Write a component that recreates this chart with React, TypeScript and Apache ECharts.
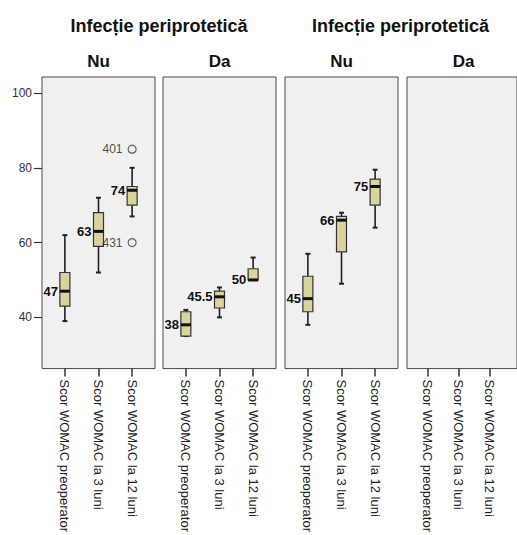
import React, { useEffect, useRef } from "react";
import * as echarts from "echarts";

// Measures shown along each panel's horizontal axis
const categories = ["Scor WOMAC preoperator", "Scor WOMAC la 3 luni", "Scor WOMAC la 12 luni"];

// Panel headers: outer factor label and level label
const groupTitle = "Infecție periprotetică";
const panelLevels = ["Nu", "Da", "Nu", "Da"];

// Box statistics per measure: [min, Q1, median, Q3, max]
const boxesPanel1 = [
  [39, 43, 47, 52, 62],
  [52, 59, 63, 68, 72],
  [67, 70, 74, 75, 80],
];
const boxesPanel2 = [
  [35, 35, 38, 41.5, 42],
  [40, 42.5, 45.5, 47, 48],
  [50, 50, 50, 53, 56],
];
const boxesPanel3 = [
  [38, 41.5, 45, 51, 57],
  [49, 57.5, 66, 67, 68],
  [64, 70, 75, 77, 79.5],
];
const boxesPanel4: number[][] = [];

// Outlying cases: [measure index, value, case id]
const outliersPanel1: [number, number, string][] = [
  [2, 85, "401"],
  [2, 60, "431"],
];

// Value axis
const yMin = 26.3;
const yMax = 104.3;
const yTicks = [40, 60, 80, 100];

const FONT = "'Liberation Sans', Arial, sans-serif";

const panelLefts = [42, 163, 285, 407];
const panelWidths = [113, 113, 113, 120];
const panelTop = 77;
const panelHeight = 293;

export default function App() {
  const ref = useRef<HTMLDivElement>(null);

  useEffect(() => {
    if (!ref.current) return;
    const chart = echarts.init(ref.current, undefined, { renderer: "svg" });

    const allBoxes = [boxesPanel1, boxesPanel2, boxesPanel3, boxesPanel4];
    const allOutliers = [outliersPanel1, [], [], []];

    const grid = panelLefts.map((left, i) => ({
      left,
      top: panelTop,
      width: panelWidths[i],
      height: panelHeight,
      show: true,
      backgroundColor: "#F0F0F0",
      borderColor: "#4A4A4A",
      borderWidth: 1,
      containLabel: false,
    }));

    // x range chosen so the three measures sit 22-23px in from each panel edge
    const xAxis = panelLefts.map((_, i) => {
      const span = (panelWidths[i] / 113) * 3.36;
      return {
        type: "value" as const,
        gridIndex: i,
        min: -0.68,
        max: -0.68 + span,
        splitLine: { show: false },
        axisLine: { show: false, onZero: false },
        axisTick: {
          show: true,
          length: 8,
          customValues: [0, 1, 2],
          lineStyle: { color: "#333", width: 1.5 },
        },
        axisLabel: {
          show: true,
          customValues: [0, 1, 2],
          rotate: -90,
          margin: 11,
          padding: [7, 0, 0, 0],
          fontSize: 13,
          fontFamily: FONT,
          color: "#222",
          formatter: (v: number) => categories[Math.round(v)] ?? "",
        },
      };
    });

    const yAxis = panelLefts.map((_, i) => ({
      type: "value" as const,
      gridIndex: i,
      min: yMin,
      max: yMax,
      splitLine: { show: false },
      axisLine: { show: false, onZero: false },
      axisTick: {
        show: i === 0,
        length: 8,
        customValues: yTicks,
        lineStyle: { color: "#333", width: 1.2 },
      },
      axisLabel: {
        show: i === 0,
        customValues: yTicks,
        margin: 10,
        fontSize: 12,
        fontFamily: FONT,
        color: "#333",
      },
    }));

    const series: any[] = [];
    allBoxes.forEach((boxes, i) => {
      series.push({
        type: "custom",
        xAxisIndex: i,
        yAxisIndex: i,
        data: boxes.map((b, k) => [k, ...b]),
        encode: { x: 0, y: [1, 2, 3, 4, 5] },
        renderItem: (_params: any, api: any) => {
          const x = api.value(0);
          const mn = api.value(1);
          const q1 = api.value(2);
          const md = api.value(3);
          const q3 = api.value(4);
          const mx = api.value(5);
          const pMin = api.coord([x, mn]);
          const pQ1 = api.coord([x, q1]);
          const pMd = api.coord([x, md]);
          const pQ3 = api.coord([x, q3]);
          const pMax = api.coord([x, mx]);
          const cx = pMin[0];
          const half = 5;
          const cap = 2.5;
          const stroke = { stroke: "#222", lineWidth: 1.6 };
          return {
            type: "group",
            children: [
              { type: "line", shape: { x1: cx, y1: pMax[1], x2: cx, y2: pQ3[1] }, style: stroke },
              { type: "line", shape: { x1: cx, y1: pQ1[1], x2: cx, y2: pMin[1] }, style: stroke },
              { type: "line", shape: { x1: cx - cap, y1: pMax[1], x2: cx + cap, y2: pMax[1] }, style: { stroke: "#222", lineWidth: 2 } },
              { type: "line", shape: { x1: cx - cap, y1: pMin[1], x2: cx + cap, y2: pMin[1] }, style: { stroke: "#222", lineWidth: 2 } },
              {
                type: "rect",
                shape: { x: cx - half, y: pQ3[1], width: half * 2, height: pQ1[1] - pQ3[1] },
                style: { fill: "#D9D49C", stroke: "#333", lineWidth: 1.2 },
              },
              { type: "line", shape: { x1: cx - half, y1: pMd[1], x2: cx + half, y2: pMd[1] }, style: { stroke: "#111", lineWidth: 3 } },
              {
                type: "text",
                x: cx - half - 2,
                y: pMd[1],
                style: {
                  text: String(md),
                  align: "right",
                  verticalAlign: "middle",
                  fill: "#111",
                  font: `bold 13px ${FONT}`,
                },
              },
            ],
          };
        },
      });
      const outs = allOutliers[i];
      if (outs.length) {
        series.push({
          type: "scatter",
          xAxisIndex: i,
          yAxisIndex: i,
          symbol: "circle",
          symbolSize: 8,
          itemStyle: { color: "#F0F0F0", borderColor: "#444", borderWidth: 1.2 },
          label: {
            show: true,
            position: "left",
            distance: 5,
            fontSize: 12,
            fontFamily: FONT,
            color: "#222",
            formatter: (p: any) => p.name,
          },
          data: outs.map(([k, v, id]) => ({ name: id, value: [k, v] })),
        });
      }
    });

    const titleStyle = { fill: "#111", font: `bold 18px ${FONT}`, align: "center", verticalAlign: "middle" };
    const graphic: any[] = [
      { type: "text", x: (panelLefts[0] + panelLefts[1] + 113) / 2, y: 26, style: { ...titleStyle, text: groupTitle } },
      { type: "text", x: (panelLefts[2] + panelLefts[3] + 113) / 2 - 2, y: 26, style: { ...titleStyle, text: groupTitle } },
      ...panelLevels.map((lvl, i) => ({
        type: "text",
        x: panelLefts[i] + 113 / 2,
        y: 61,
        style: { ...titleStyle, font: `bold 17px ${FONT}`, text: lvl },
      })),
    ];

    chart.setOption({
      animation: false,
      backgroundColor: "#FFFFFF",
      grid,
      xAxis,
      yAxis,
      series,
      graphic,
    });

    return () => chart.dispose();
  }, []);

  return (
    <div
      ref={ref}
      style={{ position: "absolute", left: 0, top: 0, width: 517, height: 535 }}
    />
  );
}
